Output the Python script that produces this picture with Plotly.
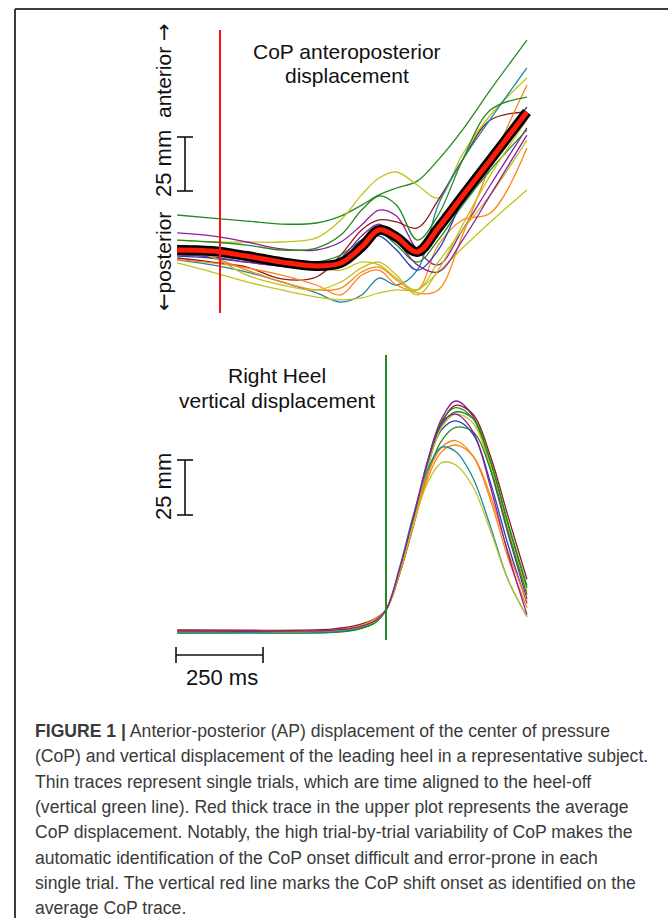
import plotly.graph_objects as go

W, H = 668, 918

# ---------------- data ----------------
# Time (ms) relative to heel-off, CoP panel nodes
T_COP = [-600, -500, -400, -300, -200, -130, -70, -20, 30, 90, 150, 220, 300, 405]

GREEN = "#248a1f"
PURPLE = "#8e1f9c"
MAROON = "#8b1c1c"
TEAL = "#1a8a9c"
YELLOW = "#c4c21e"
ORANGE = "#ff8418"
BLUE = "#2444b0"

# CoP anteroposterior displacement (mm), single trials
cop_a = [16.2, 14.8, 13.4, 12.0, 12.5, 15.7, 20.8, 25.5, 28.7, 31.9, 41.7, 55.6, 74.1, 97.2]
cop_b = [4.6, 3.7, 3.7, 3.7, 5.6, 13.9, 25.5, 33.3, 36.1, 30.1, 24.1, 44.4, 62.5, 79.6]
cop_c = [7.9, 6.5, 3.7, 0.5, 0.0, 3.7, 11.6, 18.5, 15.7, 0.0, -6.9, 9.3, 30.1, 56.5]
cop_d = [-3.7, -5.6, -7.9, -13.4, -12.5, -2.3, 9.3, 13.9, 13.0, 10.2, 23.1, 41.7, 60.2, 63.9]
cop_e = [-4.6, -6.9, -10.2, -14.8, -19.9, -24.1, -20.8, -13.0, -16.2, -9.3, 20.8, 41.7, 60.6, 84.3]
cop_f = [-2.3, -3.7, -9.3, -14.8, -18.5, -17.6, -10.2, -7.9, -13.9, -19.9, -18.5, 6.9, 39.4, 76.4]
cop_g = [-4.6, -6.0, -8.3, -11.6, -16.2, -20.8, -11.6, -9.3, -16.2, -18.5, 2.3, 13.9, 17.1, 47.2]
cop_h = [-6.0, -10.2, -14.8, -18.5, -21.8, -23.1, -22.2, -19.9, -18.5, -18.5, -10.2, 0.9, 13.0, 27.8]
cop_i = [2.3, 0.0, -2.8, -5.6, -8.3, -9.3, -5.6, -6.9, -13.0, -18.5, -5.6, 9.3, 25.5, 50.9]
cop_j = [4.6, 3.7, 2.3, 0.0, 0.9, 6.9, 18.5, 25.0, 20.8, 4.6, 16.2, 41.7, 64.8, 70.8]
cop_k = [1.4, 0.9, -2.3, -5.6, -5.6, -2.3, 4.6, 8.3, 2.3, -5.6, 4.6, 20.8, 37.0, 55.6]
cop_l = [-2.8, -3.7, -5.6, -7.4, -8.3, -5.6, 4.6, 6.5, 0.0, -9.3, 0.0, 23.1, 44.0, 66.2]
cop_m = [-2.3, -3.2, -5.6, -7.4, -8.3, -3.7, 6.5, 12.0, 4.6, -6.9, -10.2, 4.6, 25.5, 53.2]
cop_n = [0.0, -3.2, -11.6, -16.2, -18.5, -14.8, -8.3, -5.6, -11.6, -20.8, -9.3, 11.6, 34.7, 60.2]
cop_avg = [0.0, -0.5, -2.8, -5.6, -7.4, -6.0, 1.4, 9.3, 6.0, -0.9, 10.2, 25.0, 41.7, 63.9]

cop_colors = [GREEN, YELLOW, PURPLE, MAROON, TEAL, ORANGE, ORANGE, YELLOW,
              YELLOW, GREEN, GREEN, BLUE, PURPLE, YELLOW]
cop_trials = [cop_a, cop_b, cop_c, cop_d, cop_e, cop_f, cop_g, cop_h,
              cop_i, cop_j, cop_k, cop_l, cop_m, cop_n]

# Heel vertical displacement (mm), single trials
T_HEEL = [-600, -400, -250, -150, -80, -30, 0, 40, 80, 120, 160, 200, 250, 300, 350, 405]
heel_1 = [0.6, 0.5, 0.6, 1.0, 2.3, 5.2, 10, 28, 52, 78, 97, 105, 98, 74, 45, 15]
heel_2 = [0.9, 0.8, 0.8, 1.4, 3.2, 6.2, 10, 27, 50, 76, 95, 103, 99, 80, 53, 24]
heel_3 = [-0.3, -0.2, -0.3, 0.1, 1.4, 4.5, 10, 28, 52, 77, 96, 102, 97, 77, 49, 20]
heel_4 = [-0.4, -0.4, -0.3, 0.0, 1.3, 4.4, 10, 27, 50, 75, 94, 100, 97, 78, 50, 21]
heel_5 = [0.2, 0.1, 0.2, 0.6, 2.0, 5.0, 10, 28, 51, 76, 92, 96, 90, 68, 40, 13]
heel_6 = [0.0, 0.1, 0.0, 0.6, 2.5, 6.0, 10, 27, 50, 75, 93, 99, 95, 75, 47, 18]
heel_7 = [-0.5, -0.4, -0.5, -0.2, 1.2, 4.3, 10, 27, 49, 72, 87, 93, 91, 74, 46, 17]
heel_8 = [0.3, 0.2, 0.3, 0.8, 2.6, 5.6, 10, 28, 50, 72, 84, 87, 80, 60, 34, 11]
heel_9 = [0.1, 0.0, 0.1, 0.6, 2.4, 5.5, 10, 27, 49, 70, 82, 85, 80, 62, 37, 14]
heel_10 = [-0.2, -0.2, -0.1, 0.3, 1.8, 5.0, 10, 30, 54, 74, 84, 82, 70, 48, 24, 7]
heel_11 = [0.2, 0.3, 0.2, 0.6, 2.1, 5.0, 10, 28, 50, 68, 77, 76, 66, 46, 24, 7]
heel_12 = [0.4, 0.3, 0.4, 0.8, 2.2, 5.2, 10, 29, 53, 78, 95, 99, 91, 66, 36, 8]
heel_colors = [PURPLE, MAROON, GREEN, GREEN, BLUE, YELLOW, GREEN, ORANGE,
               ORANGE, TEAL, YELLOW, PURPLE]
heel_trials = [heel_1, heel_2, heel_3, heel_4, heel_5, heel_6, heel_7, heel_8,
               heel_9, heel_10, heel_11, heel_12]

ONSET_MS = -477     # CoP shift onset (vertical red line)
HEELOFF_MS = 0      # heel-off (vertical green line)
SCALE_MM = 25
SCALE_MS = 250

caption_lines = [
    "<b>FIGURE 1 |</b> Anterior-posterior (AP) displacement of the center of pressure",
    "(CoP) and vertical displacement of the leading heel in a representative subject.",
    "Thin traces represent single trials, which are time aligned to the heel-off",
    "(vertical green line). Red thick trace in the upper plot represents the average",
    "CoP displacement. Notably, the high trial-by-trial variability of CoP makes the",
    "automatic identification of the CoP onset difficult and error-prone in each",
    "single trial. The vertical red line marks the CoP shift onset as identified on the",
    "average CoP trace.",
]

# ---------------- geometry ----------------
X0_PX, MS_PER_PX = 386, 250 / 87
TOP_BASE_PX, TOP_PX_PER_MM = 250, 2.16
BOT_BASE_PX, BOT_PX_PER_MM = 632, 2.2

x_range = [(0 - X0_PX) * MS_PER_PX, (W - X0_PX) * MS_PER_PX]
y_top_range = [(TOP_BASE_PX - H) / TOP_PX_PER_MM, TOP_BASE_PX / TOP_PX_PER_MM]
y_bot_range = [(BOT_BASE_PX - H) / BOT_PX_PER_MM, BOT_BASE_PX / BOT_PX_PER_MM]


def px(xp):
    return xp / W


def py(yp):
    return 1 - yp / H


fig = go.Figure()

for vals, col in zip(cop_trials, cop_colors):
    fig.add_trace(go.Scatter(x=T_COP, y=vals, mode="lines", yaxis="y",
                             line=dict(color=col, width=1.3, shape="spline", smoothing=1.0),
                             hoverinfo="skip", showlegend=False))
fig.add_trace(go.Scatter(x=T_COP, y=cop_avg, mode="lines", yaxis="y",
                         line=dict(color="black", width=10, shape="spline", smoothing=1.0),
                         hoverinfo="skip", showlegend=False))
fig.add_trace(go.Scatter(x=T_COP, y=cop_avg, mode="lines", yaxis="y",
                         line=dict(color="#ff1a0a", width=5, shape="spline", smoothing=1.0),
                         hoverinfo="skip", showlegend=False))

for vals, col in zip(heel_trials, heel_colors):
    fig.add_trace(go.Scatter(x=T_HEEL, y=vals, mode="lines", yaxis="y2",
                             line=dict(color=col, width=1.3, shape="spline", smoothing=1.0),
                             hoverinfo="skip", showlegend=False))

shapes = []
# onset red line
shapes.append(dict(type="line", xref="x", yref="paper", x0=ONSET_MS, x1=ONSET_MS,
                   y0=py(313), y1=py(30), line=dict(color="#ff1010", width=2)))
# heel-off green line
shapes.append(dict(type="line", xref="x", yref="paper", x0=HEELOFF_MS, x1=HEELOFF_MS,
                   y0=py(640), y1=py(355), line=dict(color="#1f8a1f", width=2)))

# vertical scale bars (25 mm)
bar_x = (185 - X0_PX) * MS_PER_PX
tick_l = (177 - X0_PX) * MS_PER_PX
tick_r = (193 - X0_PX) * MS_PER_PX
top_bar_y0 = (TOP_BASE_PX - 191) / TOP_PX_PER_MM
bot_bar_y0 = (BOT_BASE_PX - 515) / BOT_PX_PER_MM
for yref, y0 in (("y", top_bar_y0), ("y2", bot_bar_y0)):
    y1 = y0 + SCALE_MM
    shapes.append(dict(type="line", xref="x", yref=yref, x0=bar_x, x1=bar_x, y0=y0, y1=y1,
                       line=dict(color="#111", width=1.6)))
    for yy in (y0, y1):
        shapes.append(dict(type="line", xref="x", yref=yref, x0=tick_l, x1=tick_r, y0=yy, y1=yy,
                           line=dict(color="#111", width=1.6)))

# horizontal time scale bar (250 ms)
tb_x0 = (176 - X0_PX) * MS_PER_PX
tb_x1 = tb_x0 + SCALE_MS
tb_y = py(655)
shapes.append(dict(type="line", xref="x", yref="paper", x0=tb_x0, x1=tb_x1, y0=tb_y, y1=tb_y,
                   line=dict(color="#111", width=1.6)))
for xx in (tb_x0, tb_x1):
    shapes.append(dict(type="line", xref="x", yref="paper", x0=xx, x1=xx, y0=py(663), y1=py(647),
                       line=dict(color="#111", width=1.6)))

# frame
shapes.append(dict(type="line", xref="paper", yref="paper", x0=px(15), x1=1, y0=py(9), y1=py(9),
                   line=dict(color="#3c3c3c", width=2)))
shapes.append(dict(type="line", xref="paper", yref="paper", x0=px(15), x1=px(15), y0=0, y1=py(9),
                   line=dict(color="#3c3c3c", width=2)))

FONT = "Liberation Sans, Arial, sans-serif"
ARROW = '<span style="font-family:DejaVu Sans">%s</span>'
ann = []


def text(s, xp, yp, size=21, angle=0, xanchor="center", color="#111"):
    ann.append(dict(text=s, xref="paper", yref="paper", x=px(xp), y=py(yp),
                    xanchor=xanchor, yanchor="middle", showarrow=False, textangle=angle,
                    font=dict(family=FONT, size=size, color=color)))


text("CoP anteroposterior", 347, 51)
text("displacement", 347, 75)
text("Right Heel", 277, 375)
text("vertical displacement", 277, 400)
text("anterior " + ARROW % "→", 164, 71, size=21, angle=-90)
text("25 mm", 164, 164, size=22, angle=-90)
text(ARROW % "←" + "posterior", 164, 262, size=21, angle=-90)
text("25 mm", 164, 487, size=22, angle=-90)
text("250 ms", 222, 677, size=22)

for i, line in enumerate(caption_lines):
    text(line, 33, 731 + i * 25.3, size=17.6, xanchor="left", color="#3a3a3a")

fig.update_layout(
    width=W, height=H,
    margin=dict(l=0, r=0, t=0, b=0),
    paper_bgcolor="white", plot_bgcolor="white",
    xaxis=dict(range=x_range, visible=False, domain=[0, 1]),
    yaxis=dict(range=y_top_range, visible=False, domain=[0, 1]),
    yaxis2=dict(range=y_bot_range, visible=False, overlaying="y", domain=[0, 1]),
    shapes=shapes, annotations=ann,
    showlegend=False,
)

fig.write_html("out.html")
